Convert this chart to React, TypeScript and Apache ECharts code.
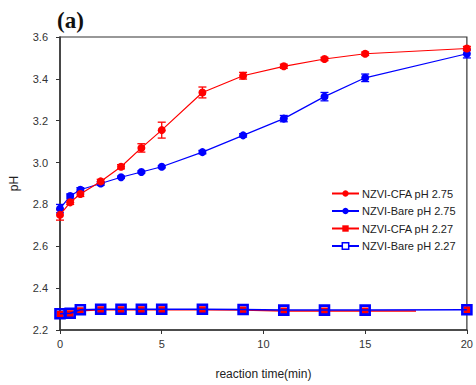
import React, { useEffect, useRef } from "react";
import * as echarts from "echarts";

const timeHigh = [0, 0.5, 1, 2, 3, 4, 5, 7, 9, 11, 13, 15, 20];
const cfa275 = [2.75, 2.81, 2.85, 2.91, 2.98, 3.07, 3.155, 3.335, 3.415, 3.46, 3.495, 3.52, 3.545];
const cfa275Err = [0.025, 0.01, 0.012, 0.01, 0.01, 0.02, 0.038, 0.026, 0.016, 0.01, 0.008, 0.008, 0.01];
const bare275 = [2.78, 2.84, 2.87, 2.9, 2.93, 2.955, 2.98, 3.05, 3.13, 3.21, 3.315, 3.405, 3.52];
const bare275Err = [0.02, 0.01, 0.01, 0.008, 0.005, 0.005, 0.005, 0.008, 0.008, 0.015, 0.02, 0.018, 0.02];

const timeLow = [0, 0.5, 1, 2, 3, 4, 5, 7, 9, 11, 13, 15, 17.5, 20];
const cfa227 = [2.275, 2.278, 2.292, 2.297, 2.297, 2.297, 2.297, 2.297, 2.296, 2.291, 2.291, 2.291, 2.291, 2.297];
const bare227 = [2.278, 2.28, 2.297, 2.299, 2.299, 2.299, 2.299, 2.299, 2.298, 2.295, 2.295, 2.295, null, 2.297];

const xTicks = { min: 0, max: 20, interval: 5 };
const yTicks = { min: 2.2, max: 3.6, interval: 0.2 };

const RED = "#ff0000";
const BLUE = "#0000ff";
const FONT = "Liberation Sans";

function errSeries(ys: number[], errs: number[], color: string) {
  return {
    type: "custom",
    silent: true,
    z: 1,
    data: timeHigh.map((t, i) => [t, ys[i] - errs[i], ys[i] + errs[i]]),
    encode: { x: 0, y: [1, 2] },
    renderItem: (params: any, api: any) => {
      const x = api.value(0);
      const lo = api.coord([x, api.value(1)]);
      const hi = api.coord([x, api.value(2)]);
      const w = 4;
      const style = { stroke: color, lineWidth: 1.3 };
      return {
        type: "group",
        children: [
          { type: "line", shape: { x1: lo[0], y1: lo[1], x2: hi[0], y2: hi[1] }, style },
          { type: "line", shape: { x1: lo[0] - w, y1: lo[1], x2: lo[0] + w, y2: lo[1] }, style },
          { type: "line", shape: { x1: hi[0] - w, y1: hi[1], x2: hi[0] + w, y2: hi[1] }, style },
        ],
      };
    },
  };
}

export default function App() {
  const ref = useRef<HTMLDivElement>(null);
  useEffect(() => {
    if (!ref.current) return;
    const chart = echarts.init(ref.current, null, { renderer: "svg" });
    const lowCfaData: any[] = [];
    timeLow.forEach((t, i) => {
      if (t === 17.5) {
        lowCfaData.push({ value: [t, cfa227[i]], symbol: "none" });
        lowCfaData.push([18, null]);
      } else {
        lowCfaData.push([t, cfa227[i]]);
      }
    });
    const lowBareData: any[] = [];
    timeLow.forEach((t, i) => {
      if (bare227[i] !== null) lowBareData.push([t, bare227[i]]);
    });
    chart.setOption({
      animation: false,
      backgroundColor: "#ffffff",
      title: {
        text: "(a)",
        left: 52,
        top: 4,
        textStyle: { fontFamily: "Liberation Serif", fontWeight: "bold", fontSize: 23, color: "#111" },
      },
      grid: {
        left: 58,
        right: 6,
        top: 37,
        bottom: 50,
        show: true,
        borderColor: "#333",
        borderWidth: 1.2,
      },
      legend: {
        orient: "vertical",
        left: 326,
        top: 183,
        itemWidth: 27,
        itemHeight: 8,
        itemGap: 6.5,
        data: [
          "NZVI-CFA pH 2.75",
          "NZVI-Bare pH 2.75",
          "NZVI-CFA pH 2.27",
          { name: "NZVI-Bare pH 2.27", itemStyle: { borderWidth: 1.5, color: "#ffffff", borderColor: BLUE } },
        ],
        textStyle: { fontFamily: FONT, fontSize: 11, color: "#222", padding: [0, 0, 0, -2] },
      },
      xAxis: {
        type: "value",
        ...xTicks,
        name: "reaction time(min)",
        nameLocation: "middle",
        nameGap: 38,
        nameTextStyle: { fontFamily: FONT, fontSize: 12, color: "#222" },
        axisLine: { show: true, lineStyle: { color: "#333", width: 1.5 } },
        axisTick: { show: true, length: 4, lineStyle: { color: "#333" } },
        axisLabel: { fontFamily: FONT, fontSize: 11, color: "#333", margin: 8 },
        splitLine: { show: false },
      },
      yAxis: {
        type: "value",
        ...yTicks,
        name: "pH",
        nameLocation: "middle",
        nameGap: 40,
        nameRotate: 90,
        nameTextStyle: { fontFamily: FONT, fontSize: 12, color: "#222" },
        axisLine: { show: true, lineStyle: { color: "#333", width: 1.5 } },
        axisTick: { show: true, length: 4, lineStyle: { color: "#333" } },
        axisLabel: {
          fontFamily: FONT,
          fontSize: 11,
          color: "#333",
          margin: 12,
          formatter: (v: number) => v.toFixed(1),
        },
        splitLine: { show: false },
      },
      series: [
        errSeries(cfa275, cfa275Err, RED),
        errSeries(bare275, bare275Err, BLUE),
        {
          name: "NZVI-CFA pH 2.75",
          type: "line",
          z: 3,
          data: timeHigh.map((t, i) => [t, cfa275[i]]),
          symbol: "circle",
          symbolSize: 8,
          lineStyle: { color: RED, width: 1.2 },
          itemStyle: { color: RED },
        },
        {
          name: "NZVI-Bare pH 2.75",
          type: "line",
          z: 2,
          data: timeHigh.map((t, i) => [t, bare275[i]]),
          symbol: "circle",
          symbolSize: 8,
          lineStyle: { color: BLUE, width: 1.2 },
          itemStyle: { color: BLUE },
        },
        {
          name: "NZVI-CFA pH 2.27",
          type: "line",
          z: 2,
          data: lowCfaData,
          connectNulls: false,
          symbol: "rect",
          symbolSize: 7,
          lineStyle: { color: RED, width: 1.5 },
          itemStyle: { color: RED },
        },
        {
          name: "NZVI-Bare pH 2.27",
          type: "line",
          z: 3,
          data: lowBareData,
          symbol: "rect",
          symbolSize: 9,
          lineStyle: { color: BLUE, width: 1.5 },
          itemStyle: { color: "rgba(255,255,255,0)", borderColor: BLUE, borderWidth: 2.6 },
        },
      ],
    });
    return () => chart.dispose();
  }, []);
  return <div ref={ref} style={{ width: 476, height: 385, position: "absolute", left: 0, top: 0 }} />;
}
